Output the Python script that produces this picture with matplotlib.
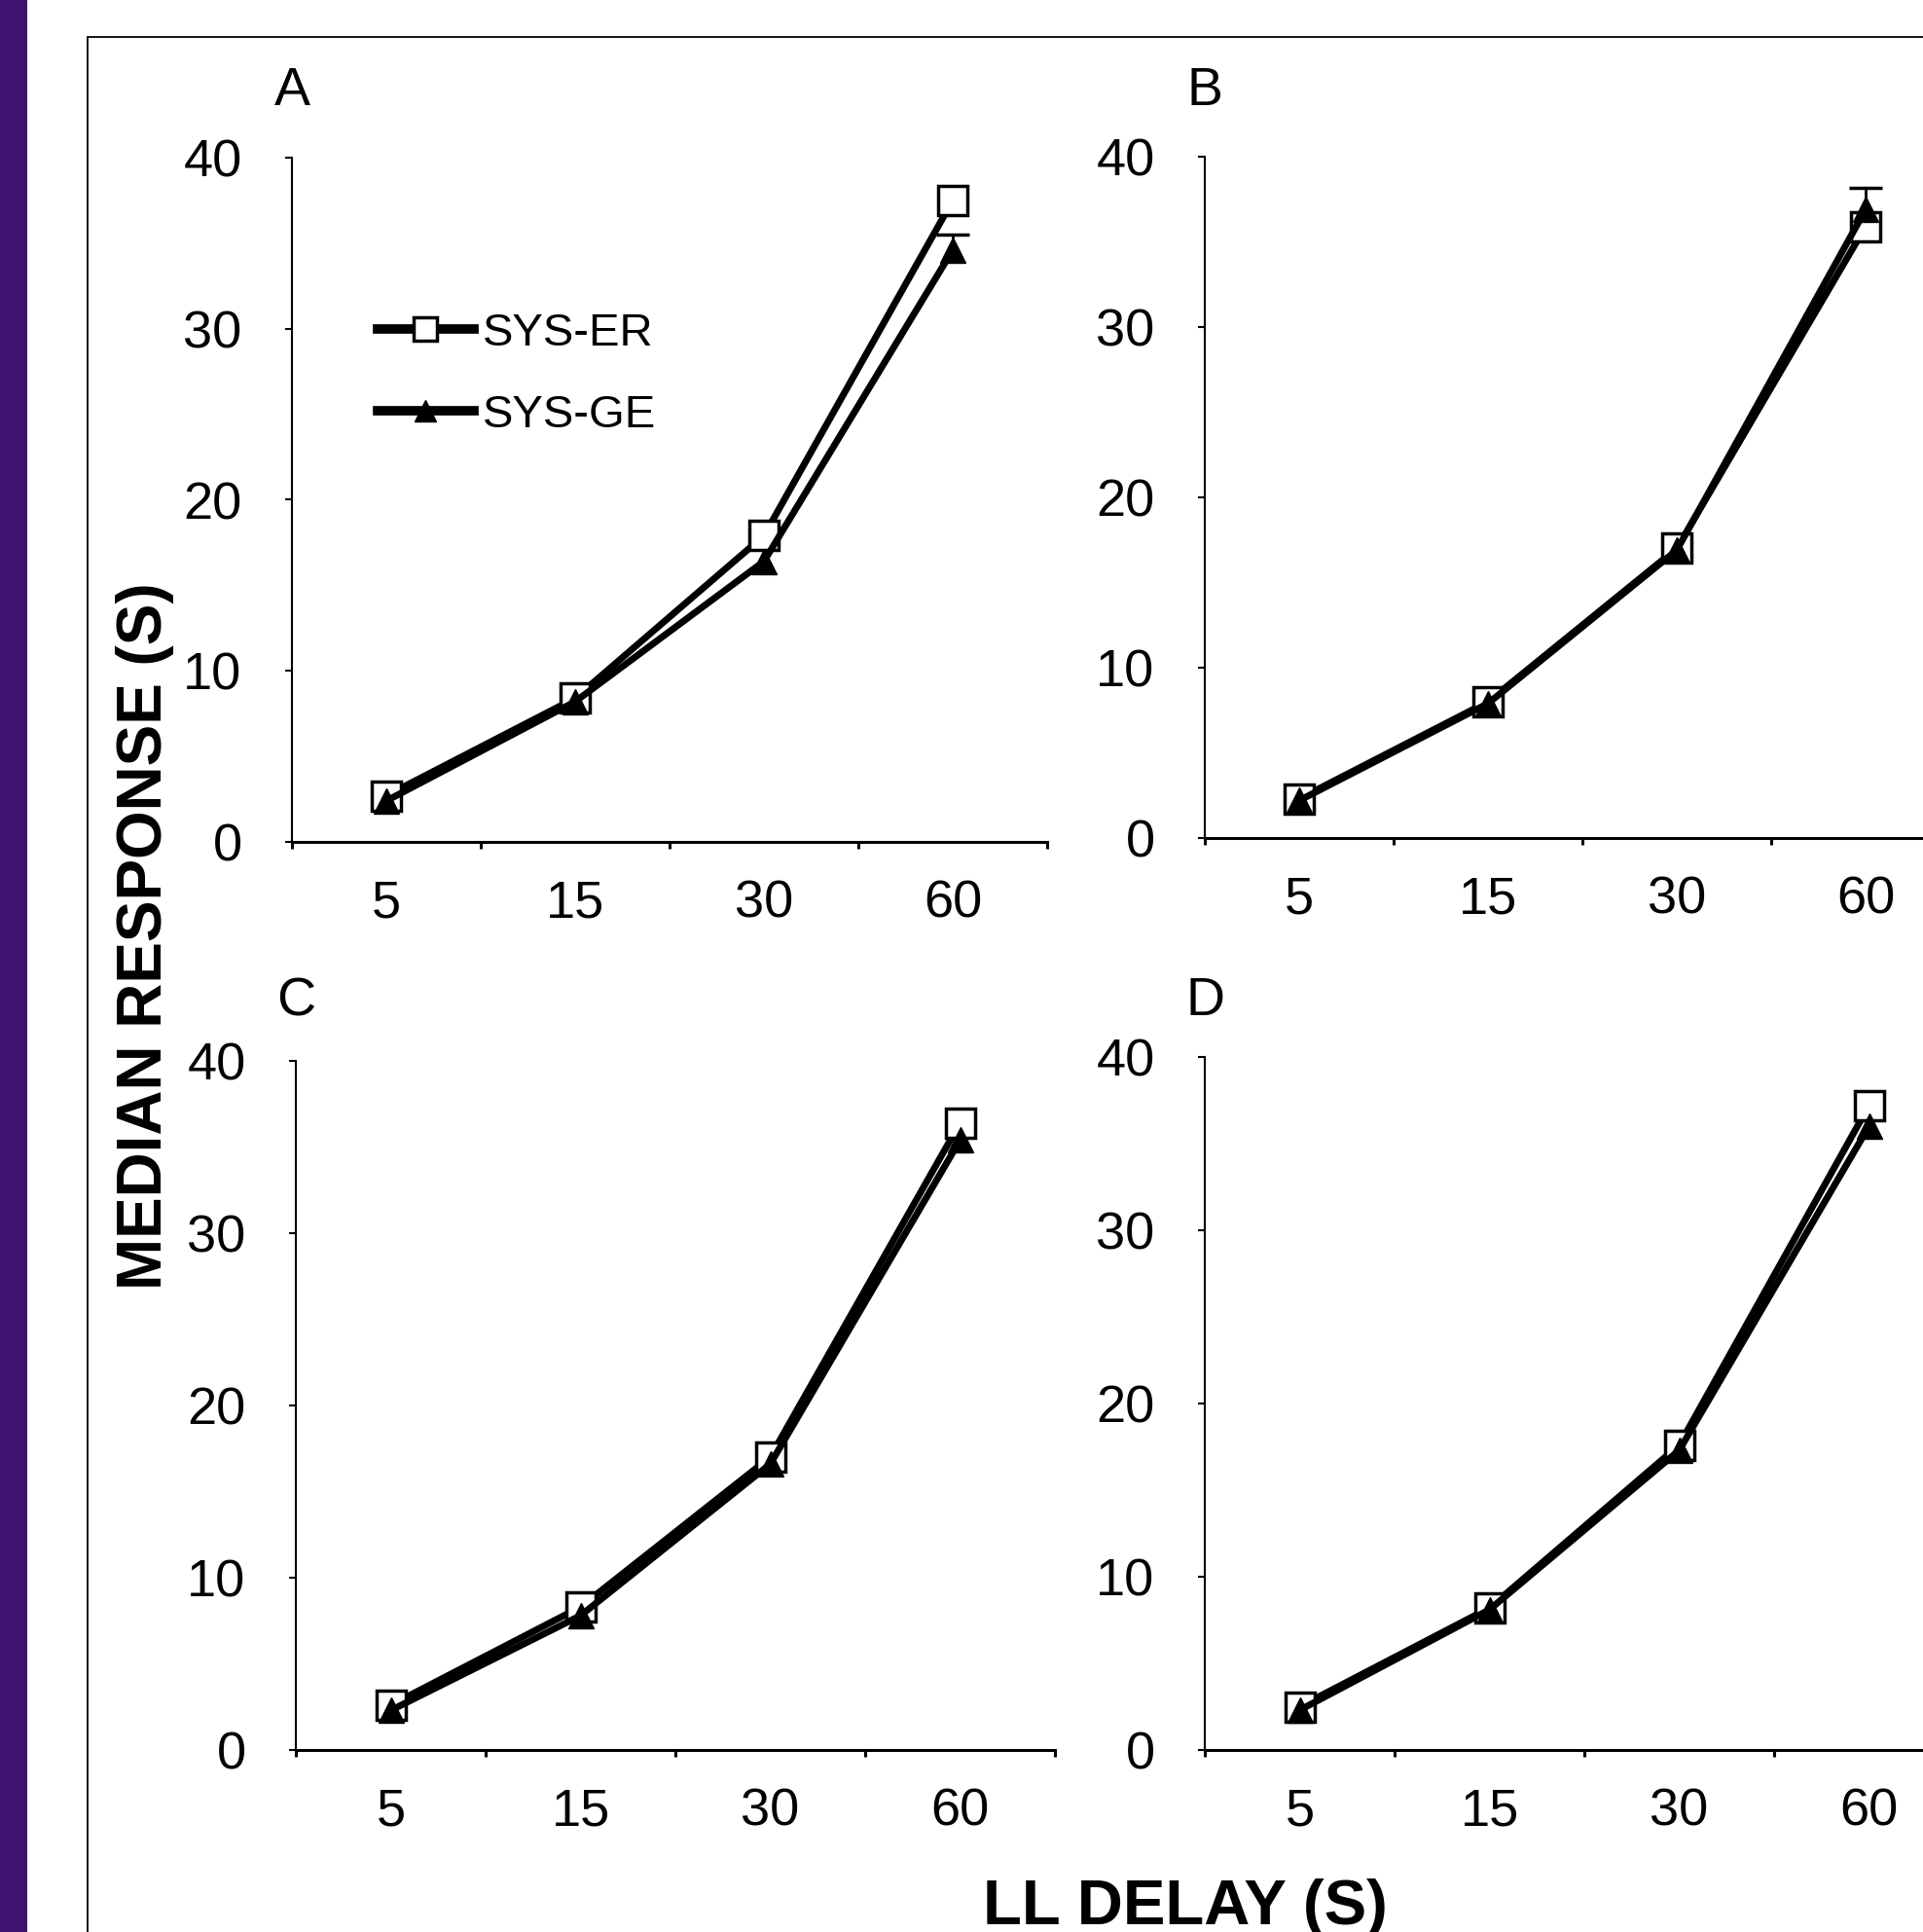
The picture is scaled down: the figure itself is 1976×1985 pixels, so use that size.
import numpy as np
import matplotlib.pyplot as plt
from matplotlib.patches import Rectangle
from matplotlib.lines import Line2D

plt.rcParams['font.family'] = ['Liberation Sans', 'DejaVu Sans']

# delays (categories) and median responses per panel
delays = ['5', '15', '30', '60']
panels = ['A', 'B', 'C', 'D']
sys_er = {
    'A': [2.7, 8.4, 17.9, 37.5],
    'B': [2.3, 8.0, 17.0, 35.9],
    'C': [2.6, 8.3, 17.0, 36.4],
    'D': [2.5, 8.2, 17.6, 37.2],
}
sys_ge = {
    'A': [2.4, 8.2, 16.4, 34.6],
    'B': [2.2, 7.9, 16.9, 36.9],
    'C': [2.3, 7.8, 16.6, 35.4],
    'D': [2.3, 8.1, 17.3, 36.0],
}
ge_err = {
    'A': [0, 0, 0, 0.9],
    'B': [0, 0, 0, 1.3],
    'C': [0, 0, 0, 0],
    'D': [0, 0, 0, 0],
}

W, H = 1976, 1985
fig = plt.figure(figsize=(W / 100, H / 100), dpi=100)

# purple strip and thin frame
fig.add_artist(Rectangle((0, 0), 28 / W, 1, transform=fig.transFigure,
                         color='#3d1271', lw=0))
fig.add_artist(Rectangle((90 / W, -0.1), 2, 1.1 - 38 / H, transform=fig.transFigure,
                         fill=False, ec='black', lw=1.3))

# axes boxes in pixels: left, x-unit width, y(40), y(0)
boxes = {
    'A': (300, 194, 162, 865),
    'B': (1238, 194, 161, 861),
    'C': (304, 195, 1090, 1798),
    'D': (1238, 195, 1086, 1798),
}

x = np.arange(len(delays)) + 0.5

for p in panels:
    left, unit, ytop, ybot = boxes[p]
    ax = fig.add_axes([left / W, 1 - ybot / H, 4 * unit / W, (ybot - ytop) / H])
    ax.set_xlim(0, 4)
    ax.set_ylim(0, 40)
    for s in ['top', 'right']:
        ax.spines[s].set_visible(False)
    ax.spines['left'].set_linewidth(1.5)
    ax.spines['bottom'].set_linewidth(2.2)

    ax.plot(x, sys_er[p], color='black', lw=5, marker='s', ms=21,
            mfc='white', mec='black', mew=2.5, clip_on=False, zorder=3)
    ax.plot(x, sys_ge[p], color='black', lw=5, marker='^', ms=19,
            mfc='black', mec='black', clip_on=False, zorder=4)
    err = np.array(ge_err[p])
    m = err > 0
    if m.any():
        ge = np.array(sys_ge[p])
        ax.errorbar(x[m], ge[m], yerr=[np.zeros(m.sum()), err[m]], fmt='none',
                    ecolor='black', elinewidth=2, capsize=0, zorder=3.5)
        ax.plot(x[m], ge[m] + err[m], ls='none', marker='_', ms=24, mew=2.5,
                color='black', zorder=3.5)

    ax.set_yticks([0, 10, 20, 30, 40])
    ax.tick_params(axis='y', direction='out', length=5, width=1.5,
                   labelsize=39, pad=32)
    ax.set_xticks([0, 1, 2, 3, 4])
    ax.set_xticklabels([])
    ax.set_xticks(x, minor=True)
    ax.set_xticklabels(delays, minor=True)
    ax.tick_params(axis='x', which='major', direction='out', length=5, width=2.2)
    ax.tick_params(axis='x', which='minor', length=0, labelsize=39, pad=28)

    ax.text(0, 1 + (ytop - (108 if p in 'AB' else 1043)) / (ybot - ytop), p,
            transform=ax.transAxes, ha='center', va='baseline', fontsize=40)

    if p == 'A':
        handles = [
            Line2D([], [], color='black', lw=7, marker='s', ms=17,
                   mfc='white', mec='black', mew=2.5),
            Line2D([], [], color='black', lw=7, marker='^', ms=16,
                   mfc='black', mec='black'),
        ]
        ax.legend(handles, ['SYS-ER', 'SYS-GE'], loc='upper left',
                  bbox_to_anchor=(0.113, 0.774), frameon=False,
                  fontsize=34, handlelength=2.1, handletextpad=0.2,
                  borderpad=0, borderaxespad=0, labelspacing=0.84)

fig.text(149 / W, 1 - 962 / H, 'MEDIAN RESPONSE (S)', rotation=90,
         ha='center', va='center', fontsize=46, fontweight='bold')
fig.text(1218 / W, 1 - 1977 / H, 'LL DELAY (S)', ha='center', va='baseline',
         fontsize=47, fontweight='bold')

fig.savefig('out.png', dpi=100)
